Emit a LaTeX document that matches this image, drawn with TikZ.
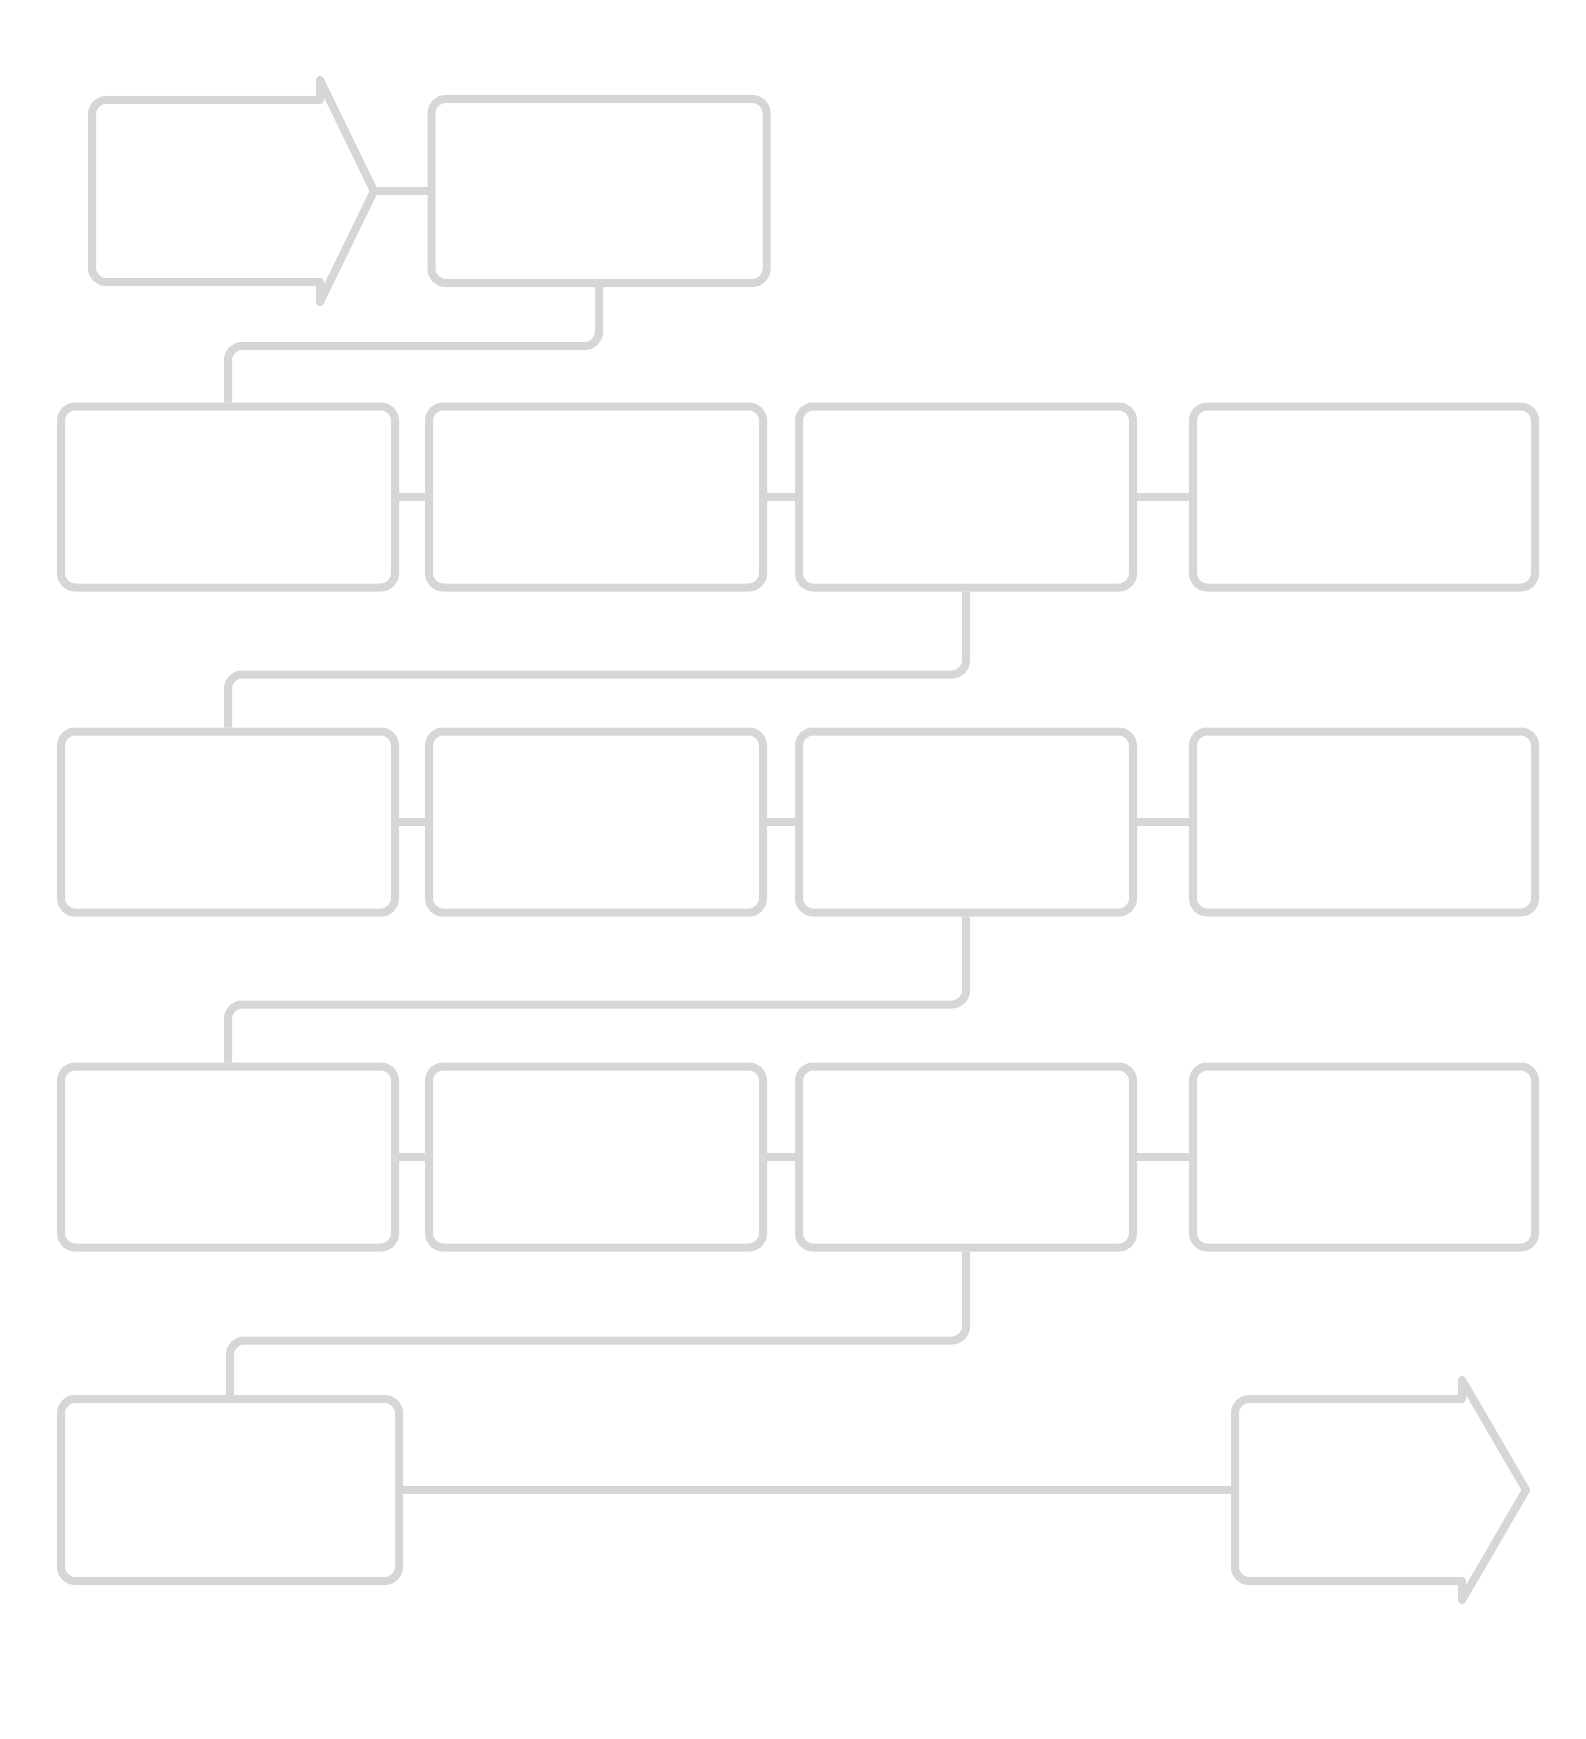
\documentclass[tikz,border=0pt]{standalone}
\begin{document}
\begin{tikzpicture}[x=1pt,y=-1pt,
  box/.style={draw=black!16, line width=8pt, rounded corners=14pt, inner sep=0pt,
              minimum width=334pt, minimum height=181pt},
  ghost/.style={draw=none, inner sep=0pt},
  conn/.style={draw=black!16, line width=8pt, rounded corners=14pt},
  outline/.style={draw=black!16, line width=8pt, line join=round}]
\useasboundingbox (0,0) rectangle (1585,1739);

% row 1
\node[ghost, minimum width=228pt, minimum height=182pt] (start) at (206,191) {};
\draw[outline] (320,100) -- (320,80) -- (374,191) -- (320,302) -- (320,282)
  {[rounded corners=14pt] -- (92,282) -- (92,100)} -- cycle;
\coordinate (starttip) at (374,191);
\node[box, minimum width=335pt, minimum height=184pt] (b2) at (599,191) {};

% row 2
\node[box] (a2) at (228,497) {};
\node[box] (bb2) at (596,497) {};
\node[box] (c2) at (966,497) {};
\node[box, minimum width=342pt] (d2) at (1364,497) {};

% row 3
\node[box] (a3) at (228,822) {};
\node[box] (bb3) at (596,822) {};
\node[box] (c3) at (966,822) {};
\node[box, minimum width=342pt] (d3) at (1364,822) {};

% row 4
\node[box] (a4) at (228,1157) {};
\node[box] (bb4) at (596,1157) {};
\node[box] (c4) at (966,1157) {};
\node[box, minimum width=342pt] (d4) at (1364,1157) {};

% row 5
\node[box, minimum width=338pt, minimum height=182pt] (a5) at (230,1490) {};
\node[ghost, minimum width=227pt, minimum height=182pt] (endb) at (1348,1490) {};
\draw[outline] (1462,1399) -- (1462,1380) -- (1526,1490) -- (1462,1600) -- (1462,1581)
  {[rounded corners=14pt] -- (1235,1581) -- (1235,1399)} -- cycle;

% connectors
\draw[conn] (starttip) -- (b2.west);
\draw[conn] (b2.south) -- ++(0,59) -| (a2.north);

\draw[conn] (a2.east) -- (bb2.west);
\draw[conn] (bb2.east) -- (c2.west);
\draw[conn] (c2.east) -- (d2.west);
\draw[conn] (c2.south) -- ++(0,83) -| (a3.north);

\draw[conn] (a3.east) -- (bb3.west);
\draw[conn] (bb3.east) -- (c3.west);
\draw[conn] (c3.east) -- (d3.west);
\draw[conn] (c3.south) -- ++(0,88) -| (a4.north);

\draw[conn] (a4.east) -- (bb4.west);
\draw[conn] (bb4.east) -- (c4.west);
\draw[conn] (c4.east) -- (d4.west);
\draw[conn] (c4.south) -- ++(0,89) -| (a5.north);

\draw[conn] (a5.east) -- (endb.west);
\end{tikzpicture}
\end{document}
